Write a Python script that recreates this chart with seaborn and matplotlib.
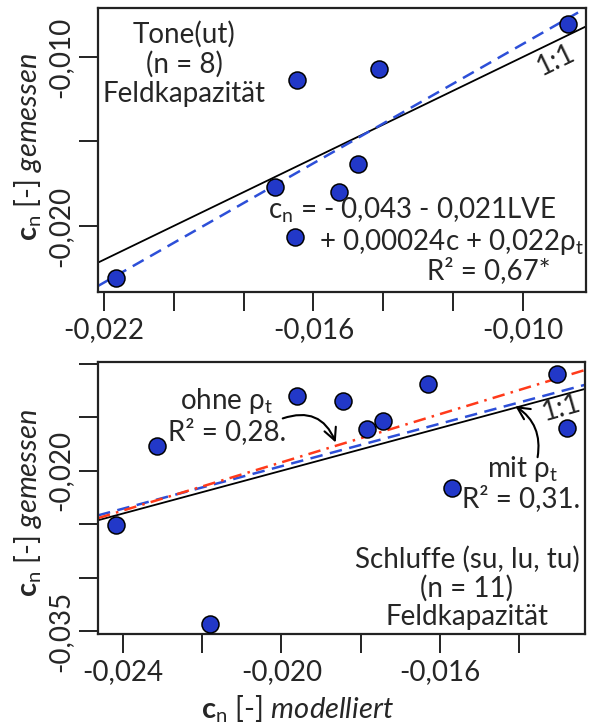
import matplotlib
matplotlib.use("Agg")
import matplotlib.pyplot as plt
import seaborn as sns
import pandas as pd

# ---------------- data ----------------
# upper panel: Tone (ut), n = 8
top_mod = [-0.02166, -0.01709, -0.01646, -0.01652, -0.01413, -0.01471, -0.01528, -0.00871]
top_mes = [-0.02308, -0.01769, -0.01136, -0.02065, -0.01071, -0.01633, -0.01799, -0.00805]
top_fit_slope, top_fit_icpt = 1.177, 0.00254

# lower panel: Schluffe (su, lu, tu), n = 11
bot_mod = [-0.02418, -0.02314, -0.02180, -0.01961, -0.01844, -0.01784, -0.01743,
           -0.01630, -0.01569, -0.01304, -0.01279]
bot_mes = [-0.02509, -0.01769, -0.03435, -0.01296, -0.01343, -0.01611, -0.01537,
           -0.01185, -0.02157, -0.01093, -0.01602]
bot_mit_slope, bot_mit_icpt = 0.994, 0.00031    # mit rho_t (blue dashed)
bot_ohne_slope, bot_ohne_icpt = 1.128, 0.00335  # ohne rho_t (red dash-dot)

top_xticks = [-0.022, -0.020, -0.018, -0.016, -0.014, -0.012, -0.010]
top_xlabels = ["-0,022", "", "", "-0,016", "", "", "-0,010"]
top_yticks = [-0.020, -0.015, -0.010]
top_ylabels = ["-0,020", "", "-0,010"]
bot_xticks = [-0.024, -0.022, -0.020, -0.018, -0.016, -0.014]
bot_xlabels = ["-0,024", "", "-0,020", "", "-0,016", ""]
bot_yticks = [-0.035, -0.030, -0.025, -0.020, -0.015, -0.010]
bot_ylabels = ["-0,035", "", "", "-0,020", "", ""]

# ---------------- style ----------------
sns.set_style("white")
FONT = "Lato"
plt.rcParams["font.family"] = [FONT, "DejaVu Sans"]
plt.rcParams["mathtext.fontset"] = "custom"
plt.rcParams["mathtext.rm"] = FONT
plt.rcParams["mathtext.it"] = FONT + ":italic"
plt.rcParams["mathtext.bf"] = FONT + ":bold"
plt.rcParams["mathtext.fallback"] = "stixsans"

FS = 20
LFS = 21
PT_BLUE = "#2238C8"
LN_BLUE = "#2D4FD8"
LN_RED = "#FF3A1A"

W, H = 591, 724
fig = plt.figure(figsize=(W / 100, H / 100), dpi=100)


def fx(px):
    return px / W


def fy(py):
    return 1 - py / H


ax1 = fig.add_axes([fx(98), fy(292), fx(586) - fx(98), fy(8) - fy(292)])
ax2 = fig.add_axes([fx(98), fy(634), fx(585) - fx(98), fy(362) - fy(634)])

df_top = pd.DataFrame({"mod": top_mod, "mes": top_mes})
df_bot = pd.DataFrame({"mod": bot_mod, "mes": bot_mes})

for ax in (ax1, ax2):
    ax.axline((0, 0), slope=1, color="black", lw=1.3, zorder=2)

ax1.axline((0, top_fit_icpt), slope=top_fit_slope, color=LN_BLUE, lw=1.8,
           dashes=(5, 3), zorder=2)
ax2.axline((0, bot_mit_icpt), slope=bot_mit_slope, color=LN_BLUE, lw=1.8,
           dashes=(5, 3), zorder=2)
ax2.axline((0, bot_ohne_icpt), slope=bot_ohne_slope, color=LN_RED, lw=1.8,
           dashes=(5, 2.5, 1, 2.5), zorder=2)

sns.scatterplot(data=df_top, x="mod", y="mes", ax=ax1, s=150, color=PT_BLUE,
                edgecolor="black", linewidth=1.1, zorder=3)
sns.scatterplot(data=df_bot, x="mod", y="mes", ax=ax2, s=150, color=PT_BLUE,
                edgecolor="black", linewidth=1.1, zorder=3)

ax1.set_xlim(-0.02217, -0.00819)
ax1.set_ylim(-0.02391, -0.0071)
ax2.set_xlim(-0.02463, -0.01233)
ax2.set_ylim(-0.03528, -0.00981)

for ax, xt, xl, yt, yl in ((ax1, top_xticks, top_xlabels, top_yticks, top_ylabels),
                           (ax2, bot_xticks, bot_xlabels, bot_yticks, bot_ylabels)):
    ax.set_xticks(xt)
    ax.set_xticklabels(xl, fontsize=FS)
    ax.set_yticks(yt)
    ax.set_yticklabels(yl, fontsize=FS, rotation=90, va="center")
    ax.tick_params(direction="out", length=14, width=1.4, color="#222222",
                   bottom=True, left=True, pad=4)
    ax.set_xlabel("")
    ax.set_ylabel("")
    for sp in ax.spines.values():
        sp.set_visible(True)
        sp.set_linewidth(1.6)
        sp.set_color("#222222")

# axis titles
ylab = r"$\mathbf{c}_\mathrm{n}$ [-] $\mathit{gemessen}$"
fig.text(fx(28), fy(147), ylab, rotation=90, ha="center", va="center", fontsize=LFS)
fig.text(fx(28), fy(503), ylab, rotation=90, ha="center", va="center", fontsize=LFS)
fig.text(fx(297), fy(709), r"$\mathbf{c}_\mathrm{n}$ [-] $\mathit{modelliert}$",
         ha="center", va="center", fontsize=LFS)

# upper panel texts
fig.text(fx(184), fy(64), "Tone(ut)\n(n = 8)\nFeldkapazität", ha="center",
         va="center", fontsize=FS, linespacing=1.15)
fig.text(fx(268), fy(210), r"c$_\mathrm{n}$ = - 0,043 - 0,021LVE", ha="left",
         va="center", fontsize=FS)
fig.text(fx(584), fy(242), r"+ 0,00024c + 0,022ρ$_\mathrm{t}$", ha="right",
         va="center", fontsize=FS)
fig.text(fx(427), fy(271), "R² = 0,67*", ha="left", va="center", fontsize=FS)
fig.text(fx(556), fy(60), "1:1", rotation=26, ha="center", va="center", fontsize=FS)

# lower panel texts
fig.text(fx(227), fy(401), r"ohne ρ$_\mathrm{t}$", ha="center", va="center", fontsize=FS)
fig.text(fx(227), fy(432), "R² = 0,28.", ha="center", va="center", fontsize=FS)
fig.text(fx(523), fy(469), r"mit ρ$_\mathrm{t}$", ha="center", va="center", fontsize=FS)
fig.text(fx(580), fy(499), "R² = 0,31.", ha="right", va="center", fontsize=FS)
fig.text(fx(561), fy(408), "1:1", rotation=16, ha="center", va="center", fontsize=FS)
fig.text(fx(467), fy(588), "Schluffe (su, lu, tu)\n(n = 11)\nFeldkapazität",
         ha="center", va="center", fontsize=FS, linespacing=1.1)

# arrows
ax2.annotate("", xy=(-0.01860, -0.01759), xytext=(-0.02003, -0.01518),
             arrowprops=dict(arrowstyle="->", color="black", lw=1.5,
                             mutation_scale=22,
                             connectionstyle="arc3,rad=-0.5"))
ax2.annotate("", xy=(-0.01415, -0.01380), xytext=(-0.01354, -0.01898),
             arrowprops=dict(arrowstyle="->", color="black", lw=1.5,
                             mutation_scale=22,
                             connectionstyle="arc3,rad=0.35"))

fig.savefig("out.png", dpi=100)
